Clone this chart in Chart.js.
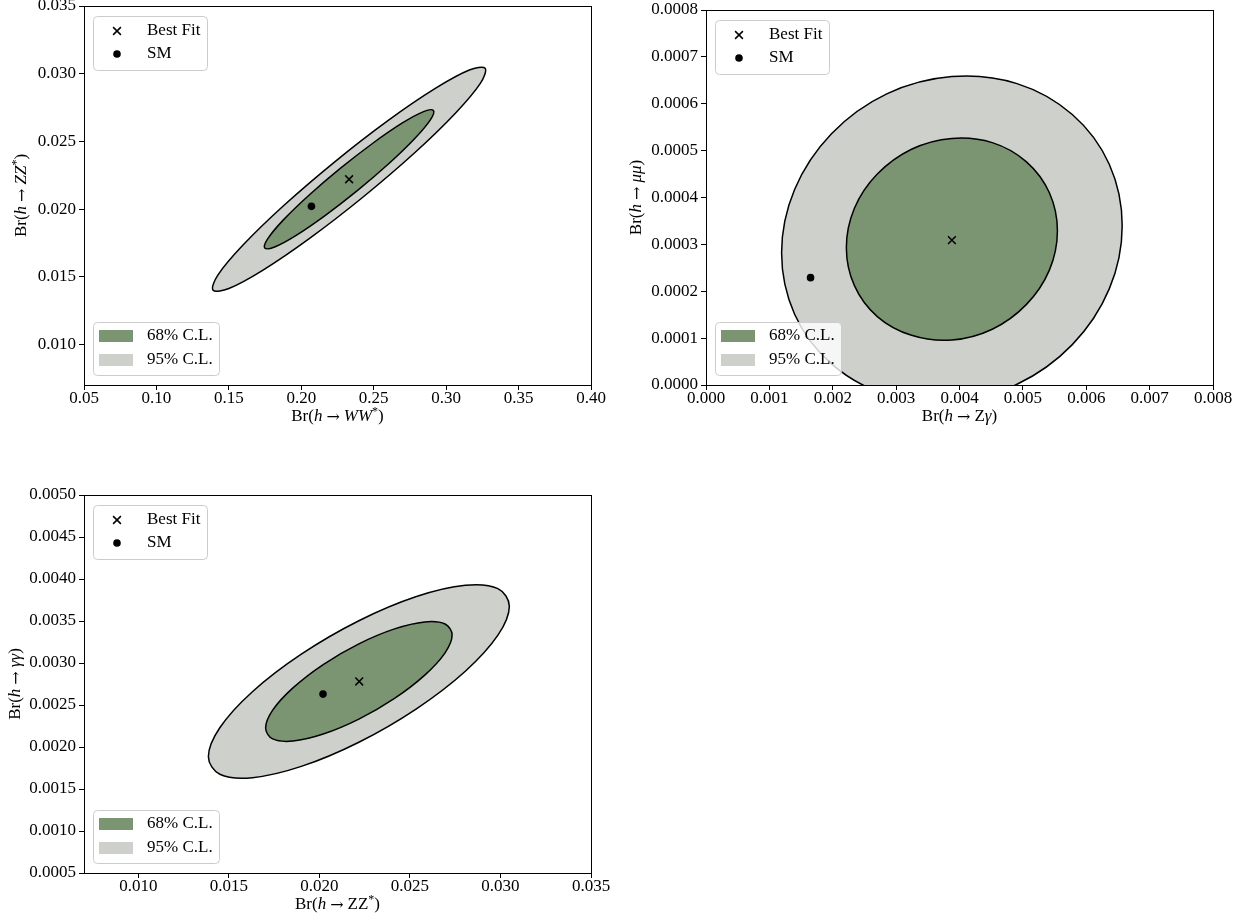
<!DOCTYPE html>
<html>
<head>
<meta charset="utf-8">
<script src="https://cdn.jsdelivr.net/npm/chart.js@4.4.1/dist/chart.umd.min.js"></script>
<style>
  html, body { margin: 0; padding: 0; background: #fff; overflow: hidden; }
  body { width: 1256px; height: 921px; position: relative; }
  canvas { position: absolute; }
</style>
</head>
<body>
<canvas id="c1"></canvas>
<canvas id="c2"></canvas>
<canvas id="c3"></canvas>
<script>
// ---- panel 1: Br(h->WW*) vs Br(h->ZZ*) ----
const wwTicks = [0.05, 0.10, 0.15, 0.20, 0.25, 0.30, 0.35, 0.40];
const wwTickLabels = ['0.05', '0.10', '0.15', '0.20', '0.25', '0.30', '0.35', '0.40'];
const zzTicksY = [0.010, 0.015, 0.020, 0.025, 0.030, 0.035];
const zzTickLabelsY = ['0.010', '0.015', '0.020', '0.025', '0.030', '0.035'];
// contour points
const wwZz95X = [0.3269, 0.3160, 0.2925, 0.2598, 0.2231, 0.1879, 0.1596, 0.1424, 0.1391, 0.1500, 0.1736, 0.2062, 0.2429, 0.2781, 0.3064, 0.3236];
const wwZz95Y = [0.03040, 0.03027, 0.02891, 0.02653, 0.02349, 0.02026, 0.01732, 0.01512, 0.01400, 0.01413, 0.01549, 0.01787, 0.02091, 0.02414, 0.02708, 0.02928];
const wwZz68X = [0.2912, 0.2844, 0.2698, 0.2496, 0.2269, 0.2051, 0.1875, 0.1769, 0.1748, 0.1816, 0.1962, 0.2164, 0.2391, 0.2609, 0.2785, 0.2891];
const wwZz68Y = [0.02728, 0.02720, 0.02636, 0.02488, 0.02300, 0.02100, 0.01918, 0.01781, 0.01712, 0.01720, 0.01804, 0.01952, 0.02140, 0.02340, 0.02523, 0.02659];
const wwZzBestFit = [0.233, 0.0222];
const wwZzSM = [0.207, 0.0202];

// ---- panel 2: Br(h->Zgamma) vs Br(h->mumu) ----
const zgTicks = [0.000, 0.001, 0.002, 0.003, 0.004, 0.005, 0.006, 0.007, 0.008];
const zgTickLabels = ['0.000', '0.001', '0.002', '0.003', '0.004', '0.005', '0.006', '0.007', '0.008'];
const mumuTicks = [0, 0.0001, 0.0002, 0.0003, 0.0004, 0.0005, 0.0006, 0.0007, 0.0008];
const mumuTickLabels = ['0.0000', '0.0001', '0.0002', '0.0003', '0.0004', '0.0005', '0.0006', '0.0007', '0.0008'];
const zgMumu95X = [0.006567, 0.006363, 0.005780, 0.004908, 0.003880, 0.002852, 0.001980, 0.001398, 0.001193, 0.001398, 0.001980, 0.002852, 0.003880, 0.004908, 0.005780, 0.006363];
const zgMumu95Y = [0.000340, 0.000471, 0.000577, 0.000643, 0.000658, 0.000621, 0.000536, 0.000417, 0.000282, 0.000151, 0.0000451, -0.0000207, -0.000036, 0.0000015, 0.0000861, 0.000205];
const zgMumu68X = [0.005545, 0.005418, 0.005057, 0.004517, 0.003880, 0.003243, 0.002703, 0.002342, 0.002215, 0.002342, 0.002703, 0.003243, 0.003880, 0.004517, 0.005057, 0.005418];
const zgMumu68Y = [0.000329, 0.000410, 0.000476, 0.000517, 0.000526, 0.000503, 0.000450, 0.000377, 0.000293, 0.000212, 0.000146, 0.000106, 0.000096, 0.000119, 0.000172, 0.000245];
const zgMumuBestFit = [0.00388, 0.000309];
const zgMumuSM = [0.00165, 0.000229];

// ---- panel 3: Br(h->ZZ*) vs Br(h->gammagamma) ----
const zzTicksX = [0.010, 0.015, 0.020, 0.025, 0.030, 0.035];
const zzTickLabelsX = ['0.010', '0.015', '0.020', '0.025', '0.030', '0.035'];
const ggTicks = [0.0005, 0.0010, 0.0015, 0.0020, 0.0025, 0.0030, 0.0035, 0.0040, 0.0045, 0.0050];
const ggTickLabels = ['0.0005', '0.0010', '0.0015', '0.0020', '0.0025', '0.0030', '0.0035', '0.0040', '0.0045', '0.0050'];
const zzGg95X = [0.03049, 0.02986, 0.02806, 0.02536, 0.02218, 0.01900, 0.01630, 0.01450, 0.01387, 0.01450, 0.01630, 0.01900, 0.02218, 0.02536, 0.02806, 0.02986];
const zzGg95Y = [0.003676, 0.003885, 0.003925, 0.003791, 0.003503, 0.003105, 0.002658, 0.002229, 0.001884, 0.001676, 0.001635, 0.001769, 0.002057, 0.002455, 0.002902, 0.003331];
const zzGg68X = [0.02733, 0.02694, 0.02582, 0.02415, 0.02218, 0.02021, 0.01854, 0.01742, 0.01703, 0.01742, 0.01854, 0.02021, 0.02218, 0.02415, 0.02582, 0.02694];
const zzGg68Y = [0.003335, 0.003464, 0.003489, 0.003406, 0.003228, 0.002982, 0.002704, 0.002439, 0.002225, 0.002096, 0.002071, 0.002154, 0.002332, 0.002579, 0.002856, 0.003121];
const zzGgBestFit = [0.0222, 0.00278];
const zzGgSM = [0.0202, 0.00263];

const markerLabels = ['Best Fit', 'SM'];
const regionLabels = ['68% C.L.', '95% C.L.'];

const FAMILY = '"Liberation Serif", "Times New Roman", serif';
const GREEN = '#7b9572';
const GRAY = '#cdd0cb';

const panels = [
  {
    id: 'c1', left: 0, top: -14, width: 621, height: 449, yAxisWidth: 84,
    xMin: 0.05, xMax: 0.40, yMin: 0.007, yMax: 0.035,
    xTicks: wwTicks, xLabels: wwTickLabels, yTicks: zzTicksY, yLabels: zzTickLabelsY,
    c95: [wwZz95X, wwZz95Y], c68: [wwZz68X, wwZz68Y], best: wwZzBestFit, sm: wwZzSM,
    xTitle: [['Br(', 'n'], ['h', 'i'], ['\u2192', 'a'], ['WW', 'i'], ['*', 's'], [')', 'n']],
    yTitle: [['Br(', 'n'], ['h', 'i'], ['\u2192', 'a'], ['ZZ', 'i'], ['*', 's'], [')', 'n']],
    yTitleOffset: 62
  },
  {
    id: 'c2', left: 620, top: -10, width: 623, height: 445, yAxisWidth: 86,
    xMin: 0, xMax: 0.008, yMin: 0, yMax: 0.0008,
    xTicks: zgTicks, xLabels: zgTickLabels, yTicks: mumuTicks, yLabels: mumuTickLabels,
    c95: [zgMumu95X, zgMumu95Y], c68: [zgMumu68X, zgMumu68Y], best: zgMumuBestFit, sm: zgMumuSM,
    xTitle: [['Br(', 'n'], ['h', 'i'], ['\u2192', 'a'], ['Z', 'n'], ['\u03b3', 'i'], [')', 'n']],
    yTitle: [['Br(', 'n'], ['h', 'i'], ['\u2192', 'a'], ['\u03bc\u03bc', 'i'], [')', 'n']],
    yTitleOffset: 69
  },
  {
    id: 'c3', left: 0, top: 475, width: 621, height: 448, yAxisWidth: 84,
    xMin: 0.007, xMax: 0.035, yMin: 0.0005, yMax: 0.0050,
    xTicks: zzTicksX, xLabels: zzTickLabelsX, yTicks: ggTicks, yLabels: ggTickLabels,
    c95: [zzGg95X, zzGg95Y], c68: [zzGg68X, zzGg68Y], best: zzGgBestFit, sm: zzGgSM,
    xTitle: [['Br(', 'n'], ['h', 'i'], ['\u2192', 'a'], ['ZZ', 'n'], ['*', 's'], [')', 'n']],
    yTitle: [['Br(', 'n'], ['h', 'i'], ['\u2192', 'a'], ['\u03b3\u03b3', 'i'], [')', 'n']],
    yTitleOffset: 68
  }
];

function toPoints(xs, ys) {
  return xs.map((x, i) => ({ x: x, y: ys[i] }));
}

// axis title with mixed upright / italic / superscript pieces
function drawMathLabel(ctx, parts, cx, cy, rotate) {
  const fontFor = s => {
    if (s === 'a') return '16px "DejaVu Serif", serif';
    return (s === 'i' ? 'italic ' : '') + (s === 's' ? '12px ' : '17px ') + FAMILY;
  };
  const gap = s => (s === 'a' ? 4 : 0);
  ctx.save();
  ctx.translate(cx, cy);
  if (rotate) ctx.rotate(-Math.PI / 2);
  let total = 0;
  parts.forEach(([t, s]) => { ctx.font = fontFor(s); total += ctx.measureText(t).width + 2 * gap(s); });
  let x = -total / 2;
  ctx.fillStyle = '#000';
  ctx.textBaseline = 'middle';
  ctx.textAlign = 'left';
  parts.forEach(([t, s]) => {
    ctx.font = fontFor(s);
    x += gap(s);
    ctx.fillText(t, x, s === 's' ? -5 : (s === 'a' ? 1 : 0));
    x += ctx.measureText(t).width + gap(s);
  });
  ctx.restore();
}

function legendBox(ctx, x, y, w, h) {
  const r = 4;
  ctx.beginPath();
  ctx.moveTo(x + r, y);
  ctx.lineTo(x + w - r, y);
  ctx.arcTo(x + w, y, x + w, y + r, r);
  ctx.lineTo(x + w, y + h - r);
  ctx.arcTo(x + w, y + h, x + w - r, y + h, r);
  ctx.lineTo(x + r, y + h);
  ctx.arcTo(x, y + h, x, y + h - r, r);
  ctx.lineTo(x, y + r);
  ctx.arcTo(x, y, x + r, y, r);
  ctx.closePath();
  ctx.fillStyle = 'rgba(255,255,255,0.8)';
  ctx.fill();
  ctx.strokeStyle = '#cccccc';
  ctx.lineWidth = 1;
  ctx.stroke();
}

function makeDecor(p) {
  return {
    id: 'panelDecor',
    // close the contour lines so the spline runs smoothly round the loop
    afterDatasetsUpdate(chart) {
      chart.data.datasets.forEach((ds, i) => {
        if (!ds.showLine) return;
        const line = chart.getDatasetMeta(i).dataset;
        if (!line) return;
        line._loop = true;
        line._fullLoop = true;
        line._pointsUpdated = false;
        line._segments = undefined;
        line._path = undefined;
      });
    },
    afterDraw(chart) {
      const ctx = chart.ctx;
      const a = chart.chartArea;
      ctx.save();
      // full frame
      ctx.strokeStyle = '#000';
      ctx.lineWidth = 1;
      ctx.strokeRect(a.left + 0.5, a.top + 0.5, a.right - a.left, a.bottom - a.top);

      ctx.font = '17px ' + FAMILY;
      ctx.textBaseline = 'middle';
      ctx.textAlign = 'left';

      // marker legend (top left)
      legendBox(ctx, a.left + 9.5, a.top + 10.5, 114, 54);
      const mx = a.left + 33, r1 = a.top + 25, r2 = a.top + 48;
      ctx.strokeStyle = '#000';
      ctx.lineWidth = 1.5;
      ctx.beginPath();
      ctx.moveTo(mx - 3.9, r1 - 3.9); ctx.lineTo(mx + 3.9, r1 + 3.9);
      ctx.moveTo(mx - 3.9, r1 + 3.9); ctx.lineTo(mx + 3.9, r1 - 3.9);
      ctx.stroke();
      ctx.fillStyle = '#000';
      ctx.beginPath();
      ctx.arc(mx, r2, 3.8, 0, Math.PI * 2);
      ctx.fill();
      ctx.fillText(markerLabels[0], a.left + 63, r1);
      ctx.fillText(markerLabels[1], a.left + 63, r2);

      // region legend (bottom left)
      legendBox(ctx, a.left + 9.5, a.bottom - 62.5, 126, 53);
      const b1 = a.bottom - 49, b2 = a.bottom - 25;
      ctx.fillStyle = GREEN;
      ctx.fillRect(a.left + 15, b1 - 6, 34, 12);
      ctx.fillStyle = GRAY;
      ctx.fillRect(a.left + 15, b2 - 6, 34, 12);
      ctx.fillStyle = '#000';
      ctx.fillText(regionLabels[0], a.left + 63, b1);
      ctx.fillText(regionLabels[1], a.left + 63, b2);
      ctx.restore();

      // axis titles
      drawMathLabel(ctx, p.xTitle, (a.left + a.right) / 2, a.bottom + 32, false);
      drawMathLabel(ctx, p.yTitle, a.left - p.yTitleOffset, (a.top + a.bottom) / 2, true);
    }
  };
}

function makeScale(min, max, ticks, labels, isX, p) {
  return {
    type: 'linear',
    min: min,
    max: max,
    afterBuildTicks: s => { s.ticks = ticks.map(v => ({ value: v })); },
    afterFit: s => { if (isX) s.height = 50; else s.width = p.yAxisWidth; },
    ticks: {
      callback: (v, i) => labels[i],
      autoSkip: false,
      maxRotation: 0,
      color: '#000',
      padding: isX ? 0 : 3,
      font: { family: FAMILY, size: 17, lineHeight: 1 }
    },
    grid: { drawOnChartArea: false, drawTicks: true, tickLength: 5, color: '#000', lineWidth: 1 },
    border: { display: false }
  };
}

panels.forEach(p => {
  const canvas = document.getElementById(p.id);
  canvas.width = p.width;
  canvas.height = p.height;
  canvas.style.left = p.left + 'px';
  canvas.style.top = p.top + 'px';

  new Chart(canvas.getContext('2d'), {
    type: 'line',
    data: {
      datasets: [
        {
          label: '95% C.L.',
          data: toPoints(p.c95[0], p.c95[1]),
          showLine: true, fill: 'shape', tension: 0.36, capBezierPoints: false,
          backgroundColor: GRAY, borderColor: '#000', borderWidth: 1.5,
          pointRadius: 0, pointHoverRadius: 0, order: 3
        },
        {
          label: '68% C.L.',
          data: toPoints(p.c68[0], p.c68[1]),
          showLine: true, fill: 'shape', tension: 0.36, capBezierPoints: false,
          backgroundColor: GREEN, borderColor: '#000', borderWidth: 1.5,
          pointRadius: 0, pointHoverRadius: 0, order: 2
        },
        {
          label: 'Best Fit',
          data: [{ x: p.best[0], y: p.best[1] }],
          showLine: false, pointStyle: 'crossRot', pointRadius: 5.5,
          borderColor: '#000', borderWidth: 1.5, order: 1
        },
        {
          label: 'SM',
          data: [{ x: p.sm[0], y: p.sm[1] }],
          showLine: false, pointStyle: 'circle', pointRadius: 3.8,
          backgroundColor: '#000', borderColor: '#000', borderWidth: 0, order: 0
        }
      ]
    },
    options: {
      responsive: false,
      animation: false,
      events: [],
      layout: { padding: { top: 20, right: 30, left: 0, bottom: 0 } },
      plugins: { legend: { display: false }, tooltip: { enabled: false } },
      scales: {
        x: makeScale(p.xMin, p.xMax, p.xTicks, p.xLabels, true, p),
        y: makeScale(p.yMin, p.yMax, p.yTicks, p.yLabels, false, p)
      }
    },
    plugins: [makeDecor(p)]
  });
});
</script>
</body>
</html>
